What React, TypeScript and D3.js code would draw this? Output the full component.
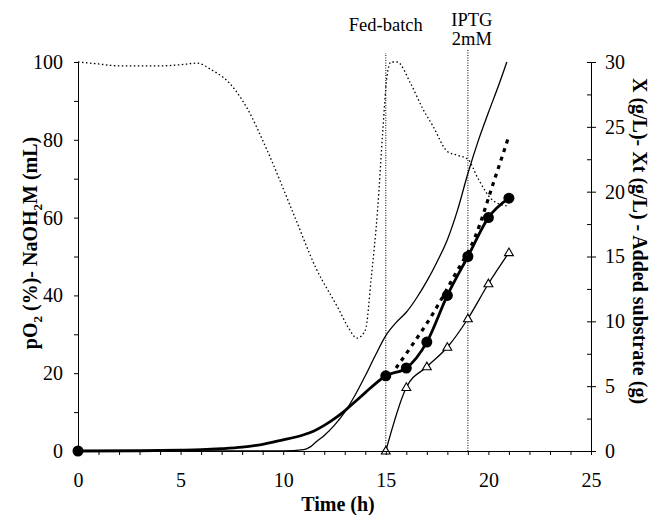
import React, { useEffect, useRef } from 'react'
import * as d3 from 'd3'

// pO2 (%) - left axis
const po2Time = [0, 1, 2, 3, 4, 5, 5.8, 6.5, 7.3, 8.2, 9.2, 10.5, 11.6, 12.7, 13.2, 13.6, 14.0, 14.3, 14.6, 14.85, 15.05, 15.25, 15.55, 16.2, 16.8, 17.3, 18, 18.5, 19, 19.5, 20.2, 20.9]
const po2Value = [100, 99.5, 99, 99, 99, 99.3, 99.7, 98, 95, 88.5, 77.5, 61, 47, 36.5, 31.5, 29, 31, 45, 62, 82, 96, 100, 100, 94.6, 88, 83.5, 77, 76, 75, 70, 64.5, 63]

// X (g/L) thick line - right axis
const xTime = [0, 3, 5, 6, 7, 8, 9, 10, 11, 11.5, 12, 12.5, 13, 13.5, 14, 14.5, 15, 16, 17, 18, 19, 20, 21]
const xValue = [0, 0.02, 0.06, 0.1, 0.18, 0.3, 0.52, 0.85, 1.25, 1.55, 1.98, 2.5, 3.1, 3.8, 4.5, 5.2, 5.8, 6.4, 8.4, 12, 15, 18, 19.5]
const xMarkTime = [0, 15, 16, 17, 18, 19, 20, 21]
const xMarkValue = [0, 5.8, 6.4, 8.4, 12, 15, 18, 19.5]

// Xt (g/L) thin line - right axis
const xtTime = [0, 5, 10, 11, 11.3, 11.6, 12, 12.5, 13, 13.5, 14, 14.5, 15, 15.5, 16, 16.5, 17, 17.5, 18, 18.5, 19, 19.5, 20, 20.5, 20.9]
const xtValue = [0, 0, 0, 0.1, 0.3, 0.7, 1.2, 2.0, 3.0, 4.3, 5.8, 7.4, 8.9, 9.9, 10.7, 11.8, 13.1, 14.6, 16.3, 18.6, 21.4, 23.9, 26.1, 28.2, 30]

// bold dashed line - right axis
const dashTime = [15.5, 16.3, 17.3, 18.3, 19.35, 20.25, 21]
const dashValue = [6.4, 8.2, 10.6, 13.4, 16.5, 20.7, 24.3]

// added substrate (g) - right axis
const subTime = [15, 16, 17, 18, 19, 20, 21]
const subValue = [0, 4.9, 6.5, 8.0, 10.2, 12.9, 15.3]

const events = [
  { t: 15, top: 53, lines: ['Fed-batch'] },
  { t: 19, top: 50, lines: ['IPTG', '2mM'] },
]

const font = '"Liberation Serif", "Times New Roman", serif'

export default function App() {
  const leftRef = useRef<SVGGElement>(null)
  const rightRef = useRef<SVGGElement>(null)
  const rightMinorRef = useRef<SVGGElement>(null)
  const bottomRef = useRef<SVGGElement>(null)

  const x = d3.scaleLinear().domain([0, 25]).range([78, 591])
  const yL = d3.scaleLinear().domain([0, 100]).range([451, 62])
  const yR = d3.scaleLinear().domain([0, 30]).range([451, 62])

  useEffect(() => {
    const left = d3.axisLeft(yL)
      .tickValues(d3.range(0, 101, 10))
      .tickFormat((d: any) => (d % 20 === 0 ? String(d) : ''))
      .tickSize(4).tickSizeOuter(0).tickPadding(11)
    const bottom = d3.axisBottom(x)
      .tickValues(d3.range(0, 26, 1))
      .tickFormat((d: any) => (d % 5 === 0 ? String(d) : ''))
      .tickSize(4).tickSizeOuter(0).tickPadding(18)
    const right = d3.axisRight(yR)
      .tickValues(d3.range(0, 31, 5))
      .tickSize(5).tickSizeOuter(0).tickPadding(9)
    const rightMinor = d3.axisLeft(yR)
      .tickValues(d3.range(0, 30.1, 2.5))
      .tickFormat(() => '')
      .tickSize(4).tickSizeOuter(0)

    const style = (g: any) => {
      g.selectAll('text').attr('font-family', font).attr('font-size', 20).attr('fill', '#000')
      g.selectAll('line').attr('stroke', '#000')
      g.select('.domain').attr('stroke', '#000')
    }
    d3.select(leftRef.current).call(left as any).call(style)
    d3.select(bottomRef.current).call(bottom as any).call(style)
    d3.select(rightRef.current).call(right as any).call(style)
    d3.select(rightMinorRef.current).call(rightMinor as any).call(style)
  }, [])

  const lineL = d3.line<number>().x((d, i) => x(po2Time[i])).y(d => yL(d)).curve(d3.curveMonotoneX)
  const mk = (ts: number[]) => d3.line<number>().x((d, i) => x(ts[i])).y(d => yR(d)).curve(d3.curveMonotoneX)

  const tri = d3.symbol().type(d3.symbolTriangle).size(34)

  return (
    <svg width={653} height={515} style={{ position: 'absolute', left: 0, top: 0, background: '#fff' }}>
      {events.map(e => (
        <g key={e.t}>
          <line x1={x(e.t)} x2={x(e.t)} y1={yL(0)} y2={e.top} stroke="#000" strokeWidth={1} strokeDasharray="1,1.5" />
          {e.lines.map((s, i) => (
            <text key={s} x={x(e.t) + (e.t === 19 ? 4 : 0)} y={e.lines.length === 1 ? 31 : 26 + i * 19}
              textAnchor="middle" fontFamily={font} fontSize={18.5}>{s}</text>
          ))}
        </g>
      ))}

      <path d={lineL(po2Value) || ''} fill="none" stroke="#000" strokeWidth={1.3} strokeDasharray="1.5,2.5" />
      <path d={mk(xtTime)(xtValue) || ''} fill="none" stroke="#000" strokeWidth={1.3} />
      <path d={mk(subTime)(subValue) || ''} fill="none" stroke="#000" strokeWidth={1.3} />
      <path d={mk(dashTime)(dashValue) || ''} fill="none" stroke="#000" strokeWidth={3.2} strokeDasharray="4,5" />
      <path d={mk(xTime)(xValue) || ''} fill="none" stroke="#000" strokeWidth={2.8} />

      {xMarkTime.map((t, i) => (
        <circle key={t} cx={x(t)} cy={yR(xMarkValue[i])} r={5.5} fill="#000" />
      ))}
      {subTime.map((t, i) => (
        <path key={t} d={tri() || ''} transform={`translate(${x(t)},${yR(subValue[i]) + 0.5})`} fill="#fff" stroke="#000" strokeWidth={1.1} />
      ))}

      <g ref={leftRef} transform={`translate(${x(0)},0)`} />
      <g ref={bottomRef} transform={`translate(0,${yL(0)})`} />
      <g ref={rightRef} transform={`translate(${x(25)},0)`} />
      <g ref={rightMinorRef} transform={`translate(${x(25)},0)`} />

      <text x={338} y={511} textAnchor="middle" fontFamily={font} fontSize={20} fontWeight="bold">Time (h)</text>
      <text transform="translate(37,243) rotate(-90)" textAnchor="middle" fontFamily={font} fontSize={20} fontWeight="bold">
        pO<tspan fontSize={13} dy={5}>2</tspan><tspan dy={-5}> (%)- NaOH</tspan><tspan fontSize={13} dy={5}>2</tspan><tspan dy={-5}>M (mL)</tspan>
      </text>
      <text transform="translate(633,241) rotate(90)" textAnchor="middle" fontFamily={font} fontSize={20} fontWeight="bold">
        X (g/L)- Xt (g/L) - Added substrate (g)
      </text>
    </svg>
  )
}
